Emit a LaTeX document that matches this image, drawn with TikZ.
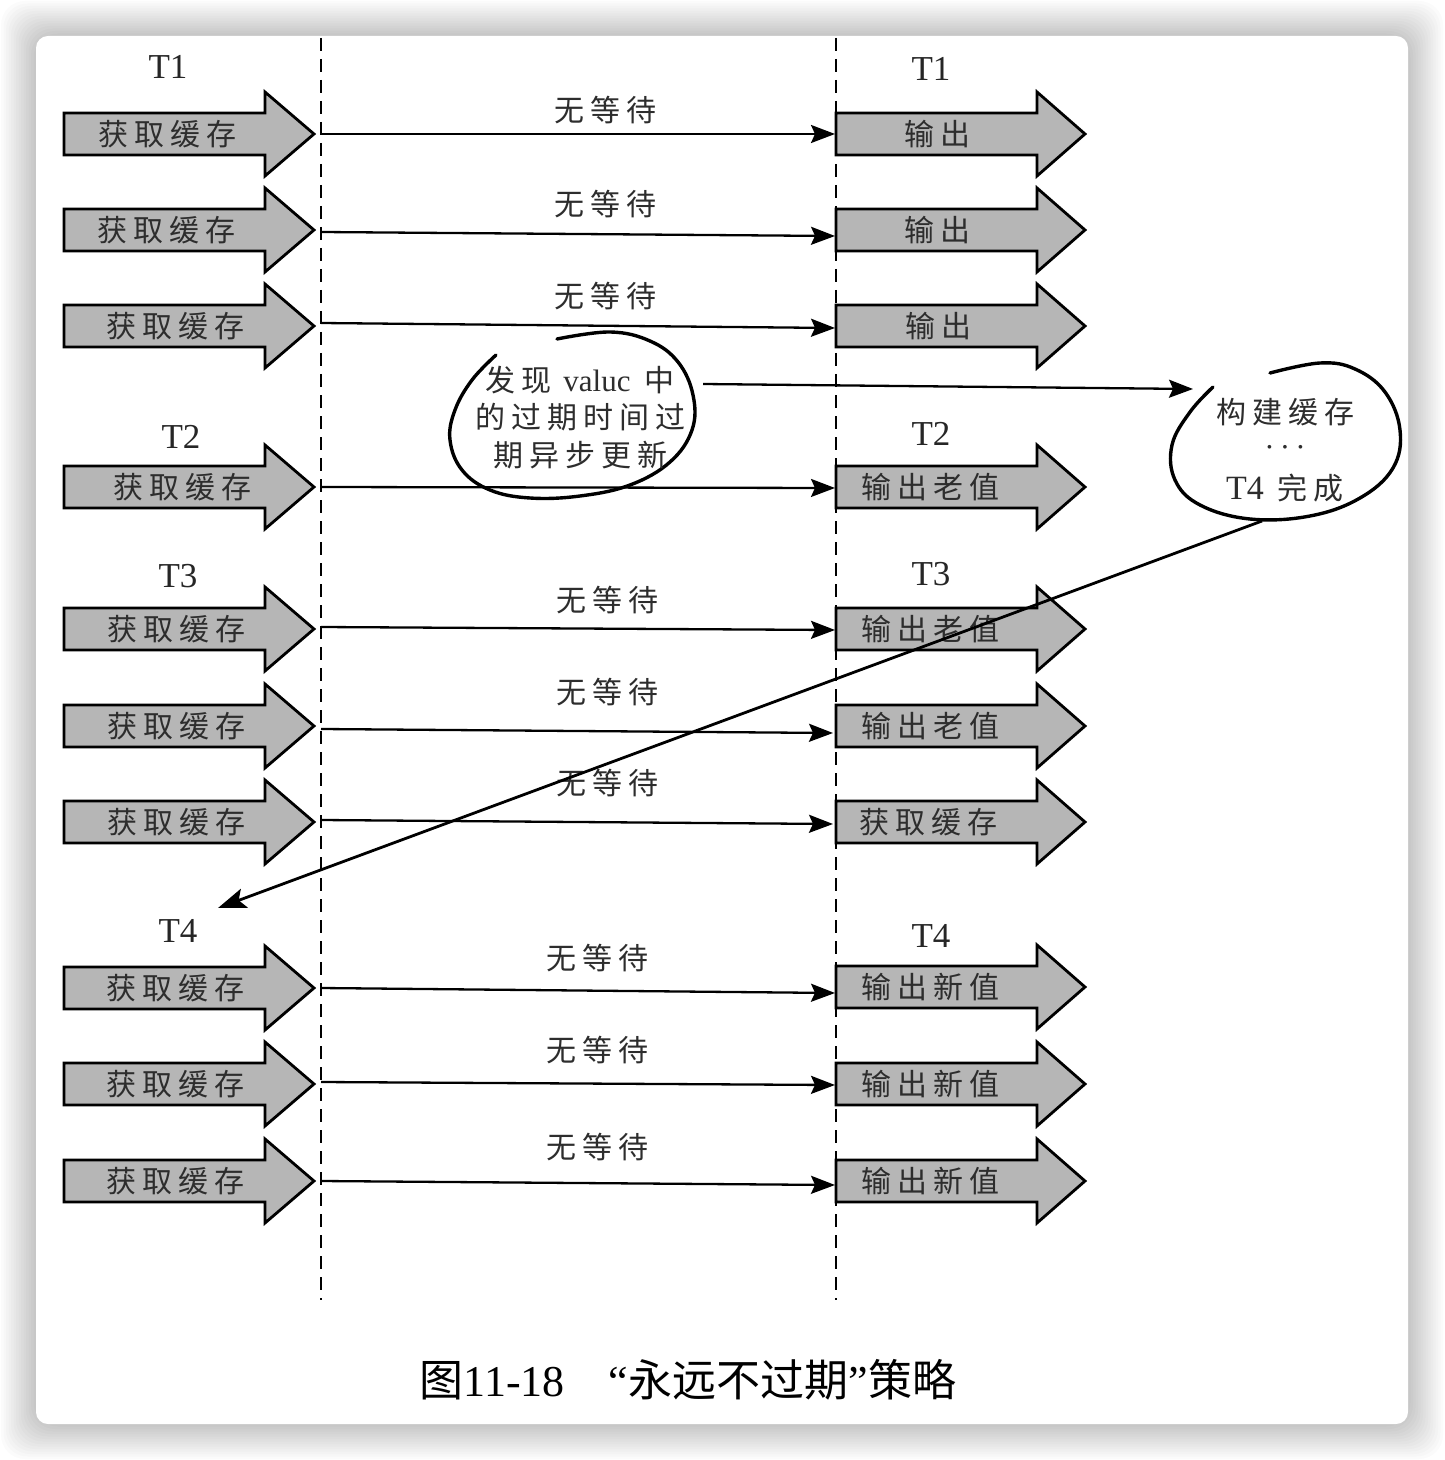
\documentclass[tikz,border=0pt]{standalone}
\usepackage{fontspec}
\setmainfont{Liberation Serif}
\newfontfamily\cjk{Noto Sans CJK SC}
\usetikzlibrary{arrows.meta}
\definecolor{arrowgray}{RGB}{182,182,182}
\definecolor{textgray}{RGB}{45,45,45}
\newcommand\spc[1]{\spcaux#1\relax}
\def\spcaux#1{\ifx\relax#1\unskip\else#1\hskip3pt\expandafter\spcaux\fi}
\newcommand\larrow[4]{%
  \draw[barrow] (64,#2-21) -- (265,#2-21) -- (265,#2-42) -- (314,#2) -- (265,#2+42) -- (265,#2+21) -- (64,#2+21) -- cycle;
  \node[atext] (#1) at (#3,#2) {\spc{#4}};
}
\newcommand\rarrow[4]{%
  \draw[barrow] (836,#2-21) -- (1037,#2-21) -- (1037,#2-42) -- (1085,#2) -- (1037,#2+42) -- (1037,#2+21) -- (836,#2+21) -- cycle;
  \node[atext] (#1) at (#3,#2) {\spc{#4}};
}
\begin{document}
\begin{tikzpicture}[x=0.5pt,y=-0.5pt,
  barrow/.style={draw=black, line width=1.4pt, fill=arrowgray, line join=miter},
  atext/.style={font=\cjk\fontsize{15}{18}\selectfont, text=textgray, inner sep=0pt},
  latin/.style={font=\fontsize{15.5}{18}\selectfont, text=textgray, inner sep=0pt},
  tlabel/.style={font=\fontsize{17.5}{20}\selectfont, text=black!85, inner sep=0pt},
  conn/.style={line width=1.15pt, -{Stealth[length=12pt,width=9pt,inset=2pt]}},
  bigconn/.style={line width=1.4pt, -{Stealth[length=14pt,width=10pt,inset=3pt]}},
  dashline/.style={line width=1pt, dash pattern=on 6.5pt off 4pt},
  blob/.style={line width=1.7pt, line cap=round, line join=round},
]
\useasboundingbox (0,0) rectangle (1444,1460);
\fill[white] (0,0) rectangle (1444,1460);
\foreach \i in {1,...,14}
  \fill[black, opacity=0.014, rounded corners=12pt] (36-2.5*\i,36-2.5*\i) rectangle (1408+2.5*\i,1424+2.5*\i);
\fill[white, rounded corners=6pt] (36,36) rectangle (1408,1424);

% dashed separators
\coordinate (dlt) at (321,38); \coordinate (dlb) at (321,1300);
\coordinate (drt) at (836,38); \coordinate (drb) at (836,1300);
\draw[dashline] (dlt) -- (dlb);
\draw[dashline] (drt) -- (drb);

% T labels
\node[tlabel] (tl1) at (168,67) {T1};
\node[tlabel] (tl2) at (181,437) {T2};
\node[tlabel] (tl3) at (178,576) {T3};
\node[tlabel] (tl4) at (178,931) {T4};
\node[tlabel] (tr1) at (931,69) {T1};
\node[tlabel] (tr2) at (931,434) {T2};
\node[tlabel] (tr3) at (931,574) {T3};
\node[tlabel] (tr4) at (931,936) {T4};

% left arrows
\larrow{la1}{134}{167}{获取缓存}
\larrow{la2}{230}{166}{获取缓存}
\larrow{la3}{326}{175}{获取缓存}
\larrow{la4}{487}{182}{获取缓存}
\larrow{la5}{629}{176}{获取缓存}
\larrow{la6}{726}{176}{获取缓存}
\larrow{la7}{822}{176}{获取缓存}
\larrow{la8}{988}{175}{获取缓存}
\larrow{la9}{1084}{175}{获取缓存}
\larrow{la10}{1181}{175}{获取缓存}

% right arrows
\rarrow{ra1}{134}{937}{输出}
\rarrow{ra2}{230}{937}{输出}
\rarrow{ra3}{326}{938}{输出}
\rarrow{ra4}{487}{930}{输出老值}
\rarrow{ra5}{629}{930}{输出老值}
\rarrow{ra6}{726}{930}{输出老值}
\rarrow{ra7}{822}{928}{获取缓存}
\rarrow{ra8}{987}{930}{输出新值}
\rarrow{ra9}{1084}{930}{输出新值}
\rarrow{ra10}{1181}{930}{输出新值}

% connector end points
\coordinate (s1) at (321,134);  \coordinate (e1) at (835,134);
\coordinate (s2) at (321,232);  \coordinate (e2) at (835,236);
\coordinate (s3) at (321,323);  \coordinate (e3) at (835,328);
\coordinate (s4) at (321,487);  \coordinate (e4) at (835,488);
\coordinate (s5) at (321,627);  \coordinate (e5) at (835,630);
\coordinate (s6) at (321,729);  \coordinate (e6) at (833,733);
\coordinate (s7) at (321,820);  \coordinate (e7) at (833,824);
\coordinate (s8) at (321,988);  \coordinate (e8) at (835,993);
\coordinate (s9) at (321,1082); \coordinate (e9) at (835,1085);
\coordinate (s10) at (321,1181); \coordinate (e10) at (835,1185);
\foreach \k in {1,...,10} \draw[conn] (s\k) -- (e\k);

% wait labels
\node[atext] (w1) at (605,110) {\spc{无等待}};
\node[atext] (w2) at (605,204) {\spc{无等待}};
\node[atext] (w3) at (605,296) {\spc{无等待}};
\node[atext] (w5) at (607,600) {\spc{无等待}};
\node[atext] (w6) at (607,692) {\spc{无等待}};
\node[atext] (w7) at (607,783) {\spc{无等待}};
\node[atext] (w8) at (597,958) {\spc{无等待}};
\node[atext] (w9) at (597,1050) {\spc{无等待}};
\node[atext] (w10) at (597,1147) {\spc{无等待}};

% bubble 1
\draw[blob] plot[smooth, tension=0.65] coordinates {(496,355) (472,380) (455,410) (450,440) (462,470) (490,490) (530,498) (580,496) (630,485) (670,462) (692,430) (693,395) (678,362) (650,341) (610,332) (557,339)};
\node[atext] (b1a) at (580,380) {\spc{发现}\hskip6pt{\rmfamily\fontsize{15.5}{18}\selectfont valuc}\hskip7pt 中};
\node[atext] (b1b) at (580,417) {\spc{的过期时间过}};
\node[atext] (b1c) at (580,455) {\spc{期异步更新}};

% bubble 2
\draw[blob] plot[smooth, tension=0.65] coordinates {(1213,387) (1190,412) (1172,445) (1175,480) (1200,505) (1250,519) (1310,516) (1360,498) (1393,468) (1400,430) (1385,392) (1355,369) (1320,363) (1270,373)};
\node[atext] (b2a) at (1285,412) {\spc{构建缓存}};
\node[latin] (b2b) at (1285,451) {·\hskip2.6pt·\hskip2.6pt·};
\node[atext] (b2c) at (1285,488) {{\rmfamily\fontsize{17}{20}\selectfont T4}\hskip7pt\spc{完成}};

% bubble connectors
\coordinate (b1out) at (703,384);
\coordinate (b2in) at (1193,389);
\draw[conn] (b1out) -- (b2in);
\coordinate (b2out) at (1262,521);
\coordinate (t4in) at (218,908);
\draw[bigconn] (b2out) -- (t4in);

% caption
\node[font=\fontsize{22}{26}\selectfont, text=black, inner sep=0pt] (cap) at (688,1380) {{\cjk 图}11-18\hskip22pt“{\cjk 永远不过期}”{\cjk 策略}};
\end{tikzpicture}
\end{document}
